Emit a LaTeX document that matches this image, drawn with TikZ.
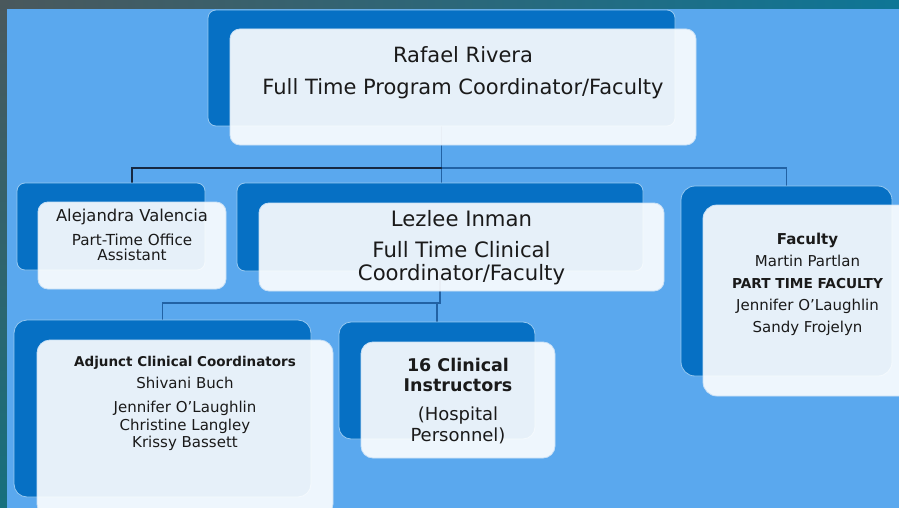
\documentclass[tikz,border=0pt]{standalone}
\usepackage{fontspec}
\setmainfont{DejaVu Sans}
\usetikzlibrary{calc}
\pgfdeclarelayer{panel}
\pgfdeclarelayer{wires}
\pgfsetlayers{panel,wires,main}
\definecolor{panelc}{RGB}{90,168,238}
\definecolor{backc}{RGB}{6,112,196}
\definecolor{edgec}{RGB}{150,200,240}
\definecolor{frontedge}{RGB}{200,224,246}
\definecolor{linedark}{RGB}{22,40,66}
\definecolor{lineblue}{RGB}{34,98,164}
\definecolor{inkc}{RGB}{26,26,26}
\definecolor{frameA}{RGB}{74,88,92}
\definecolor{frameB}{RGB}{14,118,150}
\definecolor{frameC}{RGB}{22,112,126}
\tikzset{
  backbox/.style={draw=edgec, line width=0.8pt, fill=backc, rounded corners=8pt, inner sep=0pt},
  frontbox/.style={draw=frontedge, line width=0.8pt, fill=white, fill opacity=0.9, rounded corners=10pt, inner sep=0pt},
  conn/.style={draw=lineblue, line width=1.2pt},
  conndark/.style={draw=linedark, line width=1.2pt},
  txt/.style={anchor=base, inner sep=0pt, text=inkc},
  big/.style={font=\fontsize{21}{25}\selectfont},
  mid/.style={font=\fontsize{15}{18}\selectfont},
  midb/.style={font=\fontsize{15}{18}\selectfont\bfseries},
}
\begin{document}
\begin{tikzpicture}[x=1pt, y=-1pt]
\useasboundingbox (0,0) rectangle (899,508);
\clip (0,0) rectangle (899,508);
% dark frame and light panel
\begin{pgfonlayer}{panel}
\shade[left color=frameA, right color=frameB] (0,0) rectangle (899,9);
\shade[top color=frameA, bottom color=frameC] (0,0) rectangle (7,508);
\fill[panelc] (7,9) rectangle (899,508);
\end{pgfonlayer}

% boxes behind
\node[backbox, minimum width=467pt, minimum height=116pt] (rafaelB) at (441.5,68) {};
\node[backbox, minimum width=188pt, minimum height=87pt] (alejandraB) at (111,226.5) {};
\node[backbox, minimum width=406pt, minimum height=88pt] (lezleeB) at (440,227) {};
\node[backbox, rounded corners=14pt, minimum width=211pt, minimum height=190pt] (facultyB) at (786.5,281) {};
\node[backbox, rounded corners=13pt, minimum width=297pt, minimum height=177pt] (adjunctB) at (162.5,408.5) {};
\node[backbox, rounded corners=12pt, minimum width=196pt, minimum height=117pt] (clinicalB) at (437,380.5) {};

% connectors, kept beneath the boxes
\coordinate (busT) at (441.5,168);
\coordinate (busL) at (440,303);
\begin{pgfonlayer}{wires}
\draw[conn] (rafaelB.south) -- (busT) -- (busT |- lezleeB.north);
\draw[conndark] (busT) -| ($(alejandraB.north)+(21,0)$);
\draw[conn] (busT) -| (facultyB.north);
\draw[conn] (lezleeB.south) -- (busL) -| (adjunctB.north);
\draw[conn] (busL) -| (clinicalB.north);
\end{pgfonlayer}

% boxes in front
\node[frontbox, minimum width=466pt, minimum height=116pt] (rafael) at (463,87) {};
\node[frontbox, minimum width=188pt, minimum height=87pt] (alejandra) at (132,245.5) {};
\node[frontbox, minimum width=405pt, minimum height=88pt] (lezlee) at (461.5,247) {};
\node[frontbox, rounded corners=14pt, minimum width=211pt, minimum height=191pt] (faculty) at (808.5,300.5) {};
\node[frontbox, rounded corners=13pt, minimum width=296pt, minimum height=177pt] (adjunct) at (185,428.5) {};
\node[frontbox, rounded corners=12pt, minimum width=194pt, minimum height=116pt] (clinical) at (458,400) {};

% texts
\node[txt, big] (rafael1) at (463,62.6) {Rafael Rivera};
\node[txt, big] (rafael2) at (463,95) {Full Time Program Coordinator/Faculty};

\node[txt, font=\fontsize{16.4}{19}\selectfont] (alej1) at (132,221.7) {Alejandra Valencia};
\node[txt, font=\fontsize{15.2}{18}\selectfont] (alej2) at (132,245) {Part-Time Office};
\node[txt, font=\fontsize{15.2}{18}\selectfont] (alej3) at (132,260.7) {Assistant};

\node[txt, font=\fontsize{21.2}{25}\selectfont] (lez1) at (461.5,226.7) {Lezlee Inman};
\node[txt, font=\fontsize{21.2}{25}\selectfont] (lez2) at (461.5,257.4) {Full Time Clinical};
\node[txt, font=\fontsize{21.2}{25}\selectfont] (lez3) at (461.5,280.2) {Coordinator/Faculty};

\node[txt, midb] (fac1) at (807.5,244) {Faculty};
\node[txt, mid] (fac2) at (807.5,266) {Martin Partlan};
\node[txt, font=\fontsize{13.7}{17}\selectfont\bfseries] (fac3) at (807.5,288.3) {PART TIME FACULTY};
\node[txt, mid] (fac4) at (807.5,310.7) {Jennifer O’Laughlin};
\node[txt, mid] (fac5) at (807.5,332.7) {Sandy Frojelyn};

\node[txt, font=\fontsize{13.5}{16}\selectfont\bfseries] (adj1) at (185,366) {Adjunct Clinical Coordinators};
\node[txt, mid] (adj2) at (185,388.7) {Shivani Buch};
\node[txt, mid] (adj3) at (185,412.7) {Jennifer O’Laughlin};
\node[txt, mid] (adj4) at (185,430) {Christine Langley};
\node[txt, mid] (adj5) at (185,447.7) {Krissy Bassett};

\node[txt, font=\fontsize{17.5}{21}\selectfont\bfseries] (cli1) at (458,371.7) {16 Clinical};
\node[txt, font=\fontsize{17.5}{21}\selectfont\bfseries] (cli2) at (458,391) {Instructors};
\node[txt, font=\fontsize{18}{21}\selectfont] (cli3) at (458,420) {(Hospital};
\node[txt, font=\fontsize{18}{21}\selectfont] (cli4) at (458,441) {Personnel)};
\end{tikzpicture}
\end{document}
